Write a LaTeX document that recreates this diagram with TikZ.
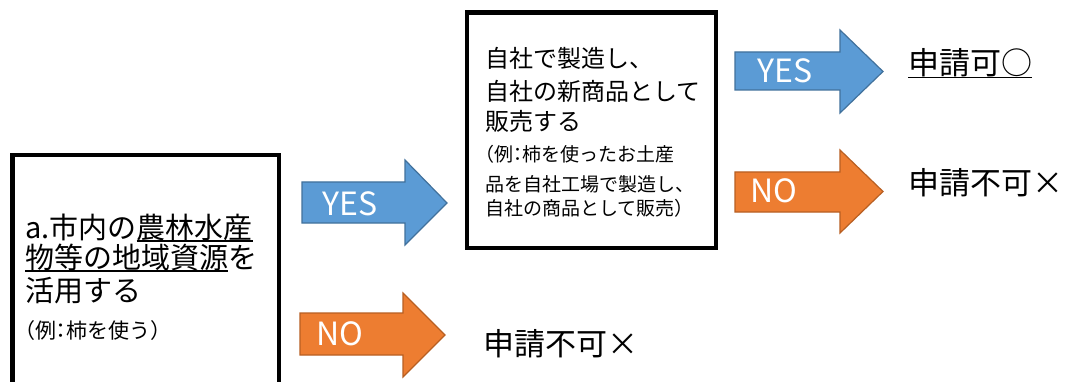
\documentclass[tikz,border=0pt]{standalone}
\usepackage{fontspec}
\setmainfont{Noto Sans CJK JP}
\definecolor{ablue}{HTML}{5B9BD5}
\definecolor{ablueline}{HTML}{41719C}
\definecolor{aorange}{HTML}{ED7D31}
\definecolor{aorangeline}{HTML}{B85F22}
\newsavebox\myulbox
\newcommand\myul[1]{\sbox\myulbox{#1}\rlap{\rule[-3.5pt]{\wd\myulbox}{1.8pt}}\usebox\myulbox}
\newcommand\hcolon{\makebox[0.45em]{：}}
\begin{document}
\begin{tikzpicture}[x=1pt,y=-1pt,
  frame/.style={draw=black,line width=4.5pt,line join=miter},
  bluearrow/.style={fill=ablue,draw=ablueline,line width=1.2pt,line join=miter},
  orangearrow/.style={fill=aorange,draw=aorangeline,line width=1.2pt,line join=miter},
  arrowtext/.style={text=white,font=\fontsize{32}{32}\selectfont,inner sep=0pt,anchor=center},
  bigline/.style={anchor=base west,inner sep=0pt,font=\fontsize{29}{29}\selectfont},
  midline/.style={anchor=base west,inner sep=0pt,font=\fontsize{24}{24}\selectfont},
  smallline/.style={anchor=base west,inner sep=0pt,font=\fontsize{19}{19}\selectfont},
  leftsmall/.style={anchor=base west,inner sep=0pt,font=\fontsize{21}{21}\selectfont},
  result/.style={anchor=base west,inner sep=0pt,font=\fontsize{31}{31}\selectfont}
]
\useasboundingbox (0,0) rectangle (1070,382);
\fill[white] (0,0) rectangle (1070,382);

% left box (open at the bottom edge of the picture)
\draw[frame] (12.5,390) -- (12.5,155) -- (279,155) -- (279,390);
\node[bigline] (l1) at (25,238) {a.市内の\myul{農林水産}};
\node[bigline] (l2) at (25,268) {\myul{物等の地域資源}を};
\node[bigline] (l3) at (25,301) {活用する};
\node[leftsmall] (l4) at (25,338) {\hspace*{-0.5em}（例\hcolon 柿を使う）};

% middle box
\draw[frame] (467,12.5) rectangle (716,248);
\node[midline] (m1) at (485,68) {自社で製造し、};
\node[midline] (m2) at (485,101) {自社の新商品として};
\node[midline] (m3) at (485,131) {販売する};
\node[smallline] (m4) at (485,162) {\hspace*{-0.5em}（例\hcolon 柿を使ったお土産};
\node[smallline] (m5) at (485,191) {品を自社工場で製造し、};
\node[smallline] (m6) at (485,215) {自社の商品として販売）};

% arrows
\draw[bluearrow] (302,182) -- (405,182) -- (405,160) -- (447,203) -- (405,245) -- (405,223) -- (302,223) -- cycle;
\node[arrowtext] (yes1) at (350,204) {YES};
\draw[orangearrow] (300,313) -- (403,313) -- (403,293) -- (445,335) -- (403,377) -- (403,355) -- (300,355) -- cycle;
\node[arrowtext] (no1) at (340,334) {NO};
\draw[bluearrow] (735,52) -- (840,52) -- (840,30) -- (883,71.5) -- (840,113) -- (840,90) -- (735,90) -- cycle;
\node[arrowtext] (yes2) at (785,71) {YES};
\draw[orangearrow] (735,172) -- (840,172) -- (840,150) -- (883,191.5) -- (840,233) -- (840,212) -- (735,212) -- cycle;
\node[arrowtext] (no2) at (774,191) {NO};

% results
\node[result] (r1) at (908,75) {\myul{申請可○}};
\node[result] (r2) at (908,194) {申請不可×};
\node[result] (r3) at (483,355) {申請不可×};
\end{tikzpicture}
\end{document}
